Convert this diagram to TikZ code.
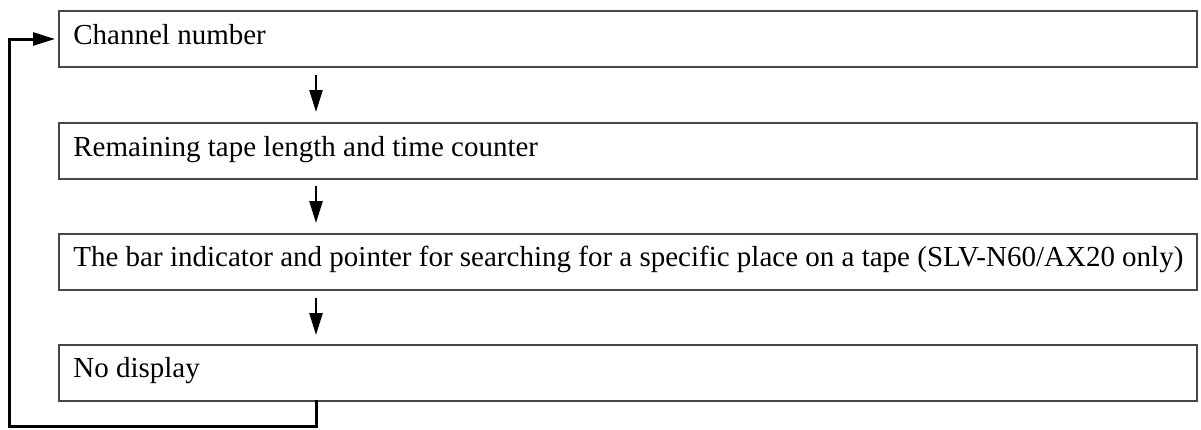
\documentclass[tikz,border=0pt]{standalone}
\usepackage{fontspec}
\setmainfont{Liberation Serif}
\usetikzlibrary{arrows.meta}
\begin{document}
\begin{tikzpicture}[x=0.5pt,y=-0.5pt,
  stepbox/.style={draw=black!72, line width=0.9pt, rectangle, minimum width=569pt, minimum height=28pt, anchor=north west, inner sep=0pt},
  lbl/.style={anchor=base west, inner sep=0pt, font=\fontsize{14.5pt}{16pt}\selectfont},
  flow/.style={line width=1.2pt, -{Triangle[length=11pt,width=6.5pt]}},
  loop/.style={line width=1.5pt}]
\useasboundingbox (0,0) rectangle (1201,429);
\node[stepbox] (b1) at (58,10) {};
\node[stepbox] (b2) at (58,122) {};
\node[stepbox] (b3) at (58,233) {};
\node[stepbox] (b4) at (58,344) {};
\node[lbl] (t1) at (73,44) {Channel number};
\node[lbl] (t2) at (73,156) {Remaining tape length and time counter};
\node[lbl] (t3) at (73,266) {The bar indicator and pointer for searching for a specific place on a tape (SLV-N60/AX20 only)};
\node[lbl] (t4) at (73,377) {No display};
\coordinate (a1s) at (316,75);
\coordinate (a1e) at (316,112);
\coordinate (a2s) at (316,186);
\coordinate (a2e) at (316,223);
\coordinate (a3s) at (316,298);
\coordinate (a3e) at (316,335);
\draw[flow] (a1s) -- (a1e);
\draw[flow] (a2s) -- (a2e);
\draw[flow] (a3s) -- (a3e);
\coordinate (l1) at (316,400);
\coordinate (l2) at (316,426);
\coordinate (l3) at (9,426);
\coordinate (l4) at (9,39);
\draw[loop] (l1) -- (l2) -- (l3) -- (l4) -- (34,39);
\draw[flow, line width=1.3pt] (32,39) -- ([xshift=-1.5pt]b1.west |- 0,39);
\end{tikzpicture}
\end{document}
